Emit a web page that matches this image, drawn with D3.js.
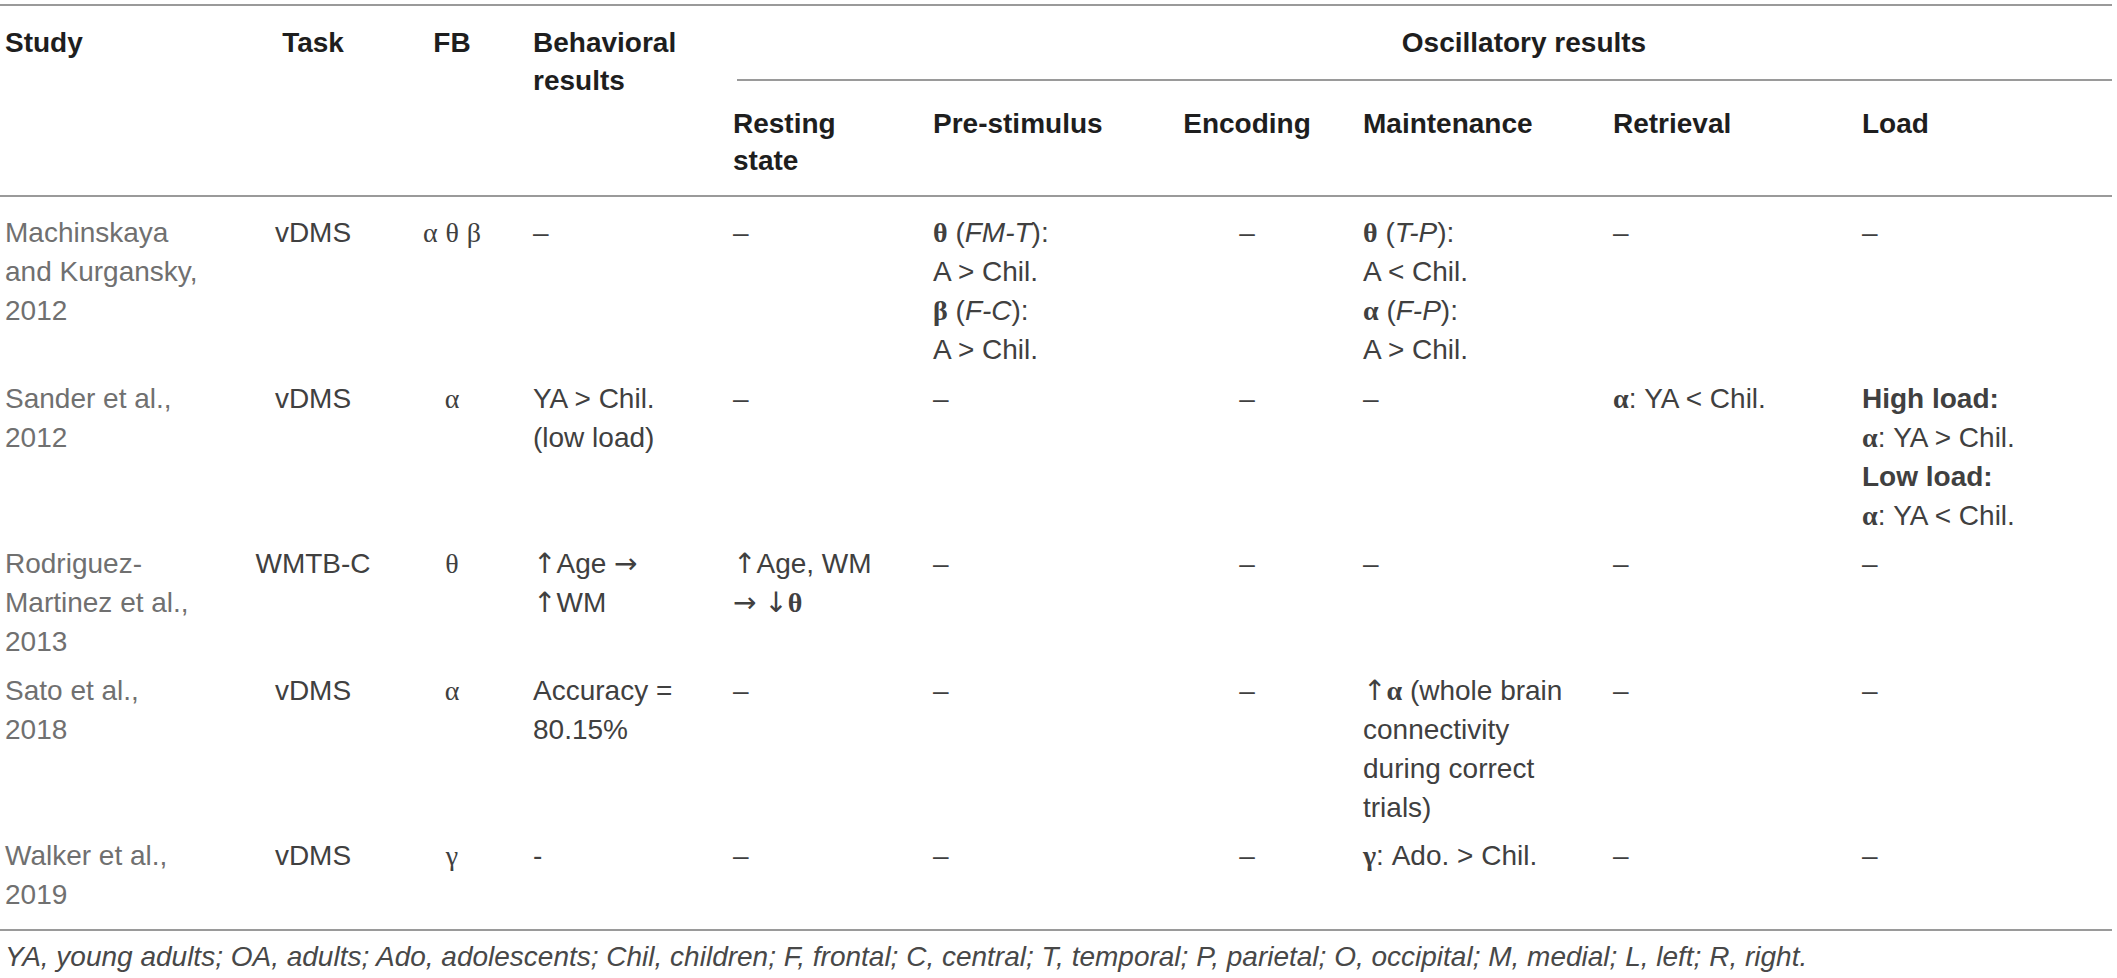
<!DOCTYPE html>
<html>
<head lang="en">
  <meta charset="UTF-8">
  <title>Oscillatory results table</title>
  <script src="https://d3js.org/d3.v7.min.js" charset="utf-8"></script>
  <style>
    body { margin: 0; background: #fff; }
    svg { display: block; }
  </style>
</head>
<body>
  <script type="text/javascript">
    // ---- table content ----
    var columns = ['Study', 'Task', 'FB', 'Behavioral', 'Resting', 'Pre-stimulus',
                   'Encoding', 'Maintenance', 'Retrieval', 'Load'];
    var topHeaders = [['Study'], ['Task'], ['FB'], ['Behavioral', 'results']];
    var groupHeader = 'Oscillatory results';
    var subHeaders = [['Resting', 'state'], ['Pre-stimulus'], ['Encoding'],
                      ['Maintenance'], ['Retrieval'], ['Load']];

    // **x** = bold, _x_ = italic, greek letters -> serif face, arrows -> DejaVu
    var studies = [['Machinskaya', 'and Kurgansky,', '2012'],
                   ['Sander et al.,', '2012'],
                   ['Rodriguez-', 'Martinez et al.,', '2013'],
                   ['Sato et al.,', '2018'],
                   ['Walker et al.,', '2019']];
    var tasks = [['vDMS'], ['vDMS'], ['WMTB-C'], ['vDMS'], ['vDMS']];
    var bands = [['α θ β'], ['α'], ['θ'], ['α'], ['γ']];
    var behavioral = [['–'], ['YA > Chil.', '(low load)'], ['↑Age →', '↑WM'],
                      ['Accuracy =', '80.15%'], ['-']];
    var resting = [['–'], ['–'], ['↑Age, WM', '→ ↓**θ**'], ['–'], ['–']];
    var preStimulus = [['**θ** (_FM-T_):', 'A > Chil.', '**β** (_F-C_):', 'A > Chil.'],
                       ['–'], ['–'], ['–'], ['–']];
    var encoding = [['–'], ['–'], ['–'], ['–'], ['–']];
    var maintenance = [['**θ** (_T-P_):', 'A < Chil.', '**α** (_F-P_):', 'A > Chil.'],
                       ['–'], ['–'],
                       ['↑**α** (whole brain', 'connectivity', 'during correct', 'trials)'],
                       ['**γ**: Ado. > Chil.']];
    var retrieval = [['–'], ['**α**: YA < Chil.'], ['–'], ['–'], ['–']];
    var load = [['–'], ['**High load:**', '**α**: YA > Chil.', '**Low load:**', '**α**: YA < Chil.'],
                ['–'], ['–'], ['–']];
    var footnote = 'YA, young adults; OA, adults; Ado, adolescents; Chil, children; ' +
                   'F, frontal; C, central; T, temporal; P, parietal; O, occipital; ' +
                   'M, medial; L, left; R, right.';

    var body = [studies, tasks, bands, behavioral, resting, preStimulus,
                encoding, maintenance, retrieval, load];

    // ---- layout ----
    var W = 2117, H = 978;
    var fontSize = 28, lineH = 39, rowGap = 9.5;
    var sans = '"Liberation Sans", Arial, Helvetica, sans-serif';
    var serif = '"Liberation Serif", "DejaVu Serif", "Times New Roman", serif';
    var arrowFont = '"DejaVu Sans", sans-serif';
    var symbolRe = /([α-ωΑ-Ω]+|[←-↕]+)/;

    var x = d3.scaleOrdinal()
        .domain(columns)
        .range([5, 313, 452, 533, 733, 933, 1247, 1363, 1613, 1862]);
    var anchor = d3.scaleOrdinal()
        .domain(columns)
        .range(['start', 'middle', 'middle', 'start', 'start', 'start',
                'middle', 'start', 'start', 'start']);
    var colour = d3.scaleOrdinal()
        .domain(columns)
        .range(['#707070'].concat(d3.range(9).map(function () { return '#404040'; })));

    // row starts in "line units"
    var rowLines = studies.map(function (s, i) {
      return d3.max(body, function (col) { return col[i].length; });
    });
    var rowStart = [0];
    for (var i = 1; i < rowLines.length; i++)
      rowStart.push(rowStart[i - 1] + rowLines[i - 1] + rowGap / lineH);
    var y = d3.scaleLinear().domain([0, 1]).range([232, 232 + lineH]);

    var svg = d3.select('body')
        .append('svg')
        .attr('width', W)
        .attr('height', H);

    function rule(x1, x2, yy) {
      svg.append('line')
          .attr('x1', x1).attr('x2', x2)
          .attr('y1', yy).attr('y2', yy)
          .attr('stroke', '#9a9a9a')
          .attr('stroke-width', 2);
    }

    function richLine(txt, cx, cy, anc, fill, baseBold) {
      var t = svg.append('text')
          .attr('x', cx)
          .attr('y', cy + 10)
          .attr('text-anchor', anc)
          .attr('fill', fill)
          .style('font-family', sans)
          .style('font-size', fontSize + 'px')
          .style('font-weight', baseBold ? 'bold' : 'normal');
      txt.split(/(\*\*[^*]+\*\*|_[^_]+_)/).forEach(function (part) {
        if (!part) return;
        var bold = baseBold, italic = false;
        if (/^\*\*/.test(part)) { bold = true; part = part.slice(2, -2); }
        else if (/^_.+_$/.test(part)) { italic = true; part = part.slice(1, -1); }
        part.split(symbolRe).forEach(function (bit) {
          if (!bit) return;
          var face = sans;
          if (/^[α-ωΑ-Ω]+$/.test(bit)) face = serif;
          else if (/^[←-↕]+$/.test(bit)) face = arrowFont;
          t.append('tspan')
              .text(bit)
              .style('font-family', face)
              .style('font-weight', face === arrowFont ? 'normal' : (bold ? 'bold' : 'normal'))
              .style('font-style', italic ? 'italic' : 'normal');
        });
      });
      return t;
    }

    // ---- rules ----
    rule(0, 2112, 5);
    rule(737, 2112, 80);
    rule(0, 2112, 196);
    rule(0, 2112, 930);

    // ---- headers ----
    topHeaders.forEach(function (lines, c) {
      lines.forEach(function (ln, k) {
        richLine(ln, x(columns[c]), 42 + k * 38, anchor(columns[c]), '#1e1e1e', true);
      });
    });
    richLine(groupHeader, 1524, 42, 'middle', '#1e1e1e', true);
    subHeaders.forEach(function (lines, c) {
      var col = columns[c + 4];
      lines.forEach(function (ln, k) {
        richLine(ln, x(col), 123 + k * 37, anchor(col), '#1e1e1e', true);
      });
    });

    // ---- body ----
    body.forEach(function (col, c) {
      col.forEach(function (cell, r) {
        cell.forEach(function (ln, k) {
          richLine(ln, x(columns[c]), y(rowStart[r] + k), anchor(columns[c]), colour(columns[c]), false);
        });
      });
    });

    // ---- footnote ----
    svg.append('text')
        .attr('x', 5)
        .attr('y', 966)
        .attr('fill', '#484848')
        .style('font-family', sans)
        .style('font-size', fontSize + 'px')
        .style('font-style', 'italic')
        .text(footnote);
  </script>
</body>
</html>
